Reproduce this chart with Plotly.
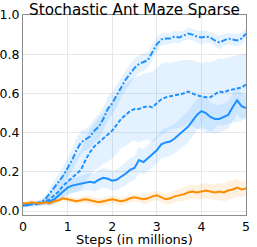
import plotly.graph_objects as go

steps = [round(i * 0.1, 1) for i in range(51)]

dashdot_mean = [0.03, 0.03, 0.035, 0.04, 0.045, 0.06, 0.09, 0.12, 0.15, 0.18,
                0.22, 0.26, 0.31, 0.35, 0.365, 0.38, 0.41, 0.43, 0.47, 0.52,
                0.55, 0.59, 0.63, 0.67, 0.70, 0.73, 0.75, 0.76, 0.77, 0.81,
                0.85, 0.875, 0.88, 0.88, 0.89, 0.885, 0.895, 0.905, 0.90, 0.89,
                0.885, 0.89, 0.885, 0.87, 0.86, 0.87, 0.88, 0.875, 0.87, 0.88,
                0.905]
dashdot_hw = [0.01, 0.01, 0.01, 0.012, 0.015, 0.02, 0.03, 0.035, 0.04, 0.045,
              0.05, 0.055, 0.06, 0.06, 0.055, 0.06, 0.06, 0.065, 0.06, 0.06,
              0.06, 0.055, 0.055, 0.05, 0.05, 0.05, 0.045, 0.045, 0.04, 0.04,
              0.035, 0.03, 0.03, 0.025, 0.03, 0.03, 0.025, 0.03, 0.03, 0.03,
              0.035, 0.03, 0.03, 0.03, 0.035, 0.03, 0.03, 0.03, 0.03, 0.03,
              0.025]

dash_mean = [0.03, 0.03, 0.035, 0.035, 0.04, 0.05, 0.06, 0.08, 0.10, 0.13,
             0.15, 0.17, 0.19, 0.21, 0.26, 0.30, 0.33, 0.35, 0.37, 0.39,
             0.41, 0.44, 0.47, 0.49, 0.51, 0.52, 0.52, 0.53, 0.535, 0.53,
             0.55, 0.57, 0.58, 0.585, 0.59, 0.595, 0.60, 0.61, 0.60, 0.59,
             0.585, 0.58, 0.58, 0.595, 0.61, 0.605, 0.615, 0.62, 0.625, 0.63,
             0.645]
dash_hw = [0.01, 0.01, 0.012, 0.012, 0.015, 0.02, 0.03, 0.04, 0.05, 0.06,
           0.07, 0.08, 0.09, 0.10, 0.11, 0.12, 0.12, 0.13, 0.13, 0.14,
           0.14, 0.15, 0.15, 0.16, 0.16, 0.16, 0.17, 0.17, 0.17, 0.18,
           0.18, 0.18, 0.18, 0.17, 0.17, 0.17, 0.17, 0.16, 0.17, 0.17,
           0.17, 0.18, 0.18, 0.17, 0.17, 0.17, 0.17, 0.17, 0.17, 0.17,
           0.16]

solid_mean = [0.03, 0.035, 0.04, 0.04, 0.04, 0.045, 0.05, 0.06, 0.08, 0.10,
              0.12, 0.13, 0.135, 0.14, 0.145, 0.15, 0.145, 0.16, 0.17, 0.165,
              0.155, 0.16, 0.175, 0.19, 0.21, 0.22, 0.26, 0.25, 0.27, 0.29,
              0.31, 0.34, 0.35, 0.355, 0.37, 0.39, 0.41, 0.43, 0.46, 0.49,
              0.51, 0.50, 0.48, 0.47, 0.47, 0.48, 0.49, 0.53, 0.565, 0.535,
              0.525]
solid_hw = [0.01, 0.01, 0.01, 0.01, 0.012, 0.015, 0.02, 0.025, 0.03, 0.03,
            0.035, 0.035, 0.04, 0.04, 0.04, 0.045, 0.045, 0.05, 0.05, 0.05,
            0.05, 0.055, 0.055, 0.06, 0.06, 0.06, 0.065, 0.065, 0.07, 0.07,
            0.07, 0.07, 0.075, 0.075, 0.075, 0.08, 0.08, 0.08, 0.08, 0.08,
            0.08, 0.08, 0.075, 0.075, 0.07, 0.07, 0.07, 0.07, 0.07, 0.065,
            0.06]

orange_mean = [0.04, 0.04, 0.045, 0.04, 0.04, 0.045, 0.04, 0.05, 0.055, 0.065,
               0.06, 0.055, 0.05, 0.055, 0.06, 0.055, 0.05, 0.045, 0.05, 0.055,
               0.06, 0.055, 0.05, 0.055, 0.065, 0.07, 0.065, 0.06, 0.065, 0.075,
               0.08, 0.07, 0.06, 0.065, 0.075, 0.08, 0.085, 0.095, 0.10, 0.095,
               0.10, 0.105, 0.10, 0.095, 0.10, 0.095, 0.105, 0.11, 0.12, 0.11,
               0.115]
orange_hw = [0.01, 0.01, 0.01, 0.012, 0.012, 0.012, 0.015, 0.015, 0.015, 0.015,
             0.015, 0.015, 0.015, 0.015, 0.02, 0.02, 0.02, 0.02, 0.02, 0.02,
             0.02, 0.02, 0.02, 0.02, 0.02, 0.02, 0.02, 0.025, 0.025, 0.025,
             0.025, 0.025, 0.025, 0.03, 0.03, 0.03, 0.035, 0.035, 0.035, 0.035,
             0.04, 0.04, 0.04, 0.04, 0.045, 0.045, 0.05, 0.045, 0.045, 0.04,
             0.035]

x_label = "Steps (in millions)"
title_text = "Stochastic Ant Maze Sparse"

BLUE = "#1E90FF"
ORANGE = "#FF8C00"
BLUE_FILL = "rgba(30,144,255,0.12)"
ORANGE_FILL = "rgba(255,140,0,0.12)"

series = [
    (dash_mean, dash_hw, BLUE, BLUE_FILL, "4px,2px"),
    (solid_mean, solid_hw, BLUE, BLUE_FILL, "solid"),
    (dashdot_mean, dashdot_hw, BLUE, BLUE_FILL, "6px,2px,2px,2px"),
    (orange_mean, orange_hw, ORANGE, ORANGE_FILL, "solid"),
]

fig = go.Figure()
for mean, hw, col, fillcol, dash in series:
    lo = [m - h for m, h in zip(mean, hw)]
    hi = [m + h for m, h in zip(mean, hw)]
    fig.add_trace(go.Scatter(x=steps + steps[::-1], y=hi + lo[::-1],
                             fill="toself", fillcolor=fillcol,
                             line=dict(width=0), mode="lines",
                             hoverinfo="skip", showlegend=False))
for mean, hw, col, fillcol, dash in series:
    fig.add_trace(go.Scatter(x=steps, y=mean, mode="lines",
                             line=dict(color=col, width=2, dash=dash),
                             showlegend=False))

fig.update_layout(
    width=257, height=247,
    margin=dict(l=23, r=11, t=15, b=32, autoexpand=False),
    paper_bgcolor="white", plot_bgcolor="white",
    font=dict(family="DejaVu Sans", size=13, color="black"),
    title=dict(text=title_text, x=0.5, xanchor="center",
               xref="paper", yref="container", y=0.962, yanchor="middle",
               font=dict(size=15.2, color="black")),
    annotations=[dict(text=x_label, x=0.5, y=-0.12, xref="paper", yref="paper",
                      xanchor="center", yanchor="middle", showarrow=False,
                      font=dict(size=13, color="black"))],
)
fig.update_xaxes(range=[0, 5], tickvals=[0, 1, 2, 3, 4, 5],
                 ticktext=["0", "1", "2", "3", "4", "5"],
                 showgrid=True, gridcolor="#e8e8e8", gridwidth=1,
                 showline=True, linecolor="#8c8c8c", linewidth=1, mirror=True,
                 zeroline=False, ticks="", tickfont=dict(size=12.5), automargin=False)
fig.update_yaxes(range=[-0.02, 1.0], tickvals=[0, 0.2, 0.4, 0.6, 0.8, 1.0],
                 ticktext=["0.0", "0.2", "0.4", "0.6", "0.8", "1.0"],
                 showgrid=True, gridcolor="#e8e8e8", gridwidth=1,
                 showline=True, linecolor="#8c8c8c", linewidth=1, mirror=True,
                 zeroline=False, ticks="", tickfont=dict(size=12.5), automargin=False)

fig.write_html("out.html", config={"displayModeBar": False},
               post_script="document.body.style.margin='0';document.body.style.padding='0';")
